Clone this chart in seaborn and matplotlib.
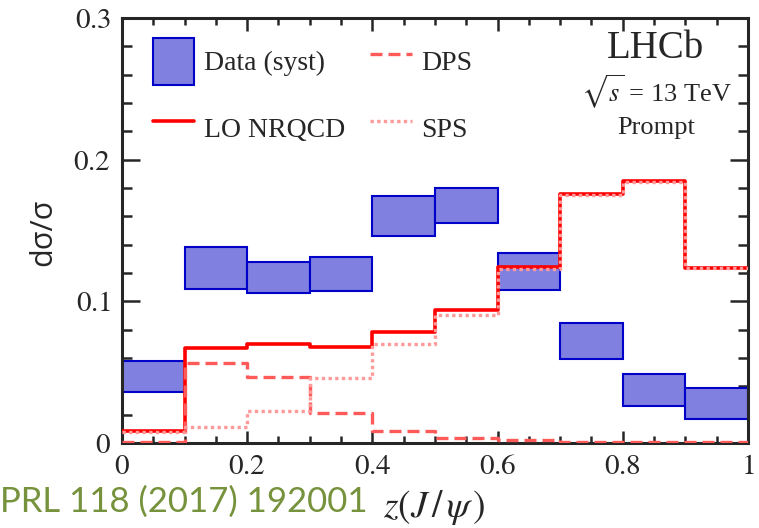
import numpy as np
import pandas as pd
import matplotlib
matplotlib.use("Agg")
import matplotlib.pyplot as plt
import seaborn as sns
from matplotlib import font_manager as fm
from matplotlib.ticker import MultipleLocator, FixedLocator, FixedFormatter

# bin edges in z(J/psi)
edges = [0.0, 0.1, 0.2, 0.3, 0.4, 0.5, 0.6, 0.7, 0.8, 0.9, 1.0]

# data boxes (systematic band), low / high
data_low = [0.036, 0.109, 0.106, 0.107, 0.146, 0.155, 0.108, 0.059, 0.026, 0.017]
data_high = [0.058, 0.138, 0.128, 0.131, 0.174, 0.180, 0.134, 0.085, 0.049, 0.039]

# theory predictions
lo_nrqcd = [0.0085, 0.0673, 0.0699, 0.0680, 0.0780, 0.0937, 0.1244, 0.1760, 0.1850, 0.1235]
dps = [0.0010, 0.0562, 0.0468, 0.0214, 0.0085, 0.0037, 0.0020, 0.0010, 0.0007, 0.0005]
sps = [0.0075, 0.0113, 0.0226, 0.0457, 0.0699, 0.0903, 0.1228, 0.1750, 0.1845, 0.1232]

x_ticks = [0, 0.2, 0.4, 0.6, 0.8, 1.0]
x_labels = ["0", "0.2", "0.4", "0.6", "0.8", "1"]
y_ticks = [0, 0.1, 0.2, 0.3]
y_labels = ["0", "0.1", "0.2", "0.3"]

sns.set_style("ticks")
plt.rcParams["font.family"] = "serif"
plt.rcParams["font.serif"] = ["Liberation Serif", "DejaVu Serif"]
plt.rcParams["mathtext.fontset"] = "stix"

serif_path = fm.findfont(fm.FontProperties(family="Liberation Serif"))
lato_path = fm.findfont(fm.FontProperties(family="Lato"))
osans_path = fm.findfont(fm.FontProperties(family="Open Sans"))

def serif_fp(size):
    return fm.FontProperties(fname=serif_path, size=size)

fig = plt.figure(figsize=(7.59, 5.28), dpi=100)
ax = fig.add_axes([0.1607, 0.161, 0.8248, 0.805])

# data boxes
lows = np.array(data_low)
highs = np.array(data_high)
ax.bar(edges[:-1], highs - lows, bottom=lows, width=0.1, align="edge",
       color="#8080e0", edgecolor="#0000c8", linewidth=1.5, zorder=2,
       label="Data (syst)")

# step curves, last value repeated so the final bin is drawn
def steps(vals):
    return pd.DataFrame({"z": edges, "y": list(vals) + [vals[-1]]})

sns.lineplot(data=steps(lo_nrqcd), x="z", y="y", ax=ax, drawstyle="steps-post",
             color="#ff0000", lw=2.6, zorder=3, label="LO NRQCD")
sns.lineplot(data=steps(dps), x="z", y="y", ax=ax, drawstyle="steps-post",
             color="#ff5a5a", lw=2.4, zorder=4, label="DPS",
             dashes=False, linestyle=(0, (3.6, 1.8)))
sns.lineplot(data=steps(sps), x="z", y="y", ax=ax, drawstyle="steps-post",
             color="#ff9a9a", lw=2.4, zorder=5, label="SPS",
             dashes=False, linestyle=(0, (1, 1)))

ax.set_xlim(0, 1)
ax.set_ylim(0, 0.3)
# tick labels through mathtext (stix) so the digits come out Times-like
ax.xaxis.set_major_locator(FixedLocator(x_ticks))
ax.xaxis.set_major_formatter(FixedFormatter([f"${s}$" for s in x_labels]))
ax.xaxis.set_minor_locator(MultipleLocator(0.05))
ax.yaxis.set_major_locator(FixedLocator(y_ticks))
ax.yaxis.set_major_formatter(FixedFormatter([f"${s}$" for s in y_labels]))
ax.yaxis.set_minor_locator(MultipleLocator(0.02))
ax.tick_params(axis="both", which="both", direction="in", top=True, right=True,
               width=1.8, labelsize=21)
ax.tick_params(axis="y", which="major", length=13, pad=8)
ax.tick_params(axis="y", which="minor", length=7)
ax.tick_params(axis="x", which="major", length=9, pad=8)
ax.tick_params(axis="x", which="minor", length=5)
for sp in ax.spines.values():
    sp.set_linewidth(2.2)
ax.set_xlabel("")
ax.set_ylabel("")

handles, labels = ax.get_legend_handles_labels()
order = [labels.index(l) for l in ["Data (syst)", "LO NRQCD", "DPS", "SPS"]]
ax.legend([handles[i] for i in order], [labels[i] for i in order],
          ncol=2, loc="upper left", bbox_to_anchor=(0.04, 0.965),
          frameon=False, prop=serif_fp(20),
          handlelength=1.5, handleheight=2.2,
          handletextpad=0.35, columnspacing=0.9, labelspacing=0.73,
          borderpad=0.2, borderaxespad=0)

ax.text(0.853, 0.928, "LHCb", transform=ax.transAxes, ha="center", va="center",
        fontproperties=serif_fp(28))
ax.text(0.853, 0.826, r"$\sqrt{s}$ = 13 TeV", transform=ax.transAxes,
        ha="center", va="center", fontproperties=serif_fp(19))
ax.text(0.853, 0.74, "Prompt", transform=ax.transAxes, ha="center",
        va="center", fontproperties=serif_fp(19))

fig.text(0.057, 0.56, "dσ/σ", rotation=90, ha="center", va="center",
         fontproperties=fm.FontProperties(fname=osans_path, size=22))
fig.text(0.572, 0.021, r"$z(J\,/\,\psi\,)$", ha="center", va="baseline",
         fontsize=27)
fig.text(0.0, 0.0303, "PRL 118 (2017) 192001", ha="left", va="baseline",
         color="#76923c",
         fontproperties=fm.FontProperties(fname=lato_path, size=25))

fig.savefig("out.png", dpi=100)
